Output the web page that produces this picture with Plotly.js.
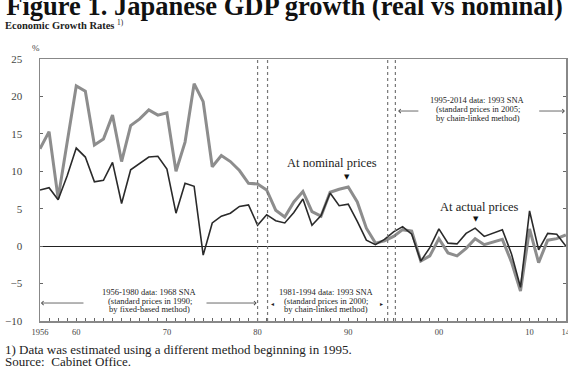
<!DOCTYPE html>
<html><head><meta charset="utf-8">
<script src="https://cdn.plot.ly/plotly-3.0.1.min.js"></script>
<style>html,body{margin:0;padding:0;background:#fff;}#chart{width:568px;height:369px;}</style>
</head><body><div id="chart"></div>
<script>
const years = [1956,1957,1958,1959,1960,1961,1962,1963,1964,1965,1966,1967,1968,1969,1970,
  1971,1972,1973,1974,1975,1976,1977,1978,1979,1980,1981,1982,1983,1984,1985,1986,1987,1988,
  1989,1990,1991,1992,1993,1994,1995,1996,1997,1998,1999,2000,2001,2002,2003,2004,2005,2006,
  2007,2008,2009,2010,2011,2012,2013,2014];
const realGrowth = [7.5,7.8,6.2,9.4,13.1,11.9,8.6,8.8,11.2,5.7,10.2,11.1,11.9,12.0,10.3,
  4.4,8.4,8.0,-1.2,3.1,4.0,4.4,5.3,5.5,2.8,4.2,3.4,3.1,4.5,6.3,2.8,4.1,7.1,
  5.4,5.6,3.3,0.8,0.2,0.9,1.9,2.6,1.6,-2.0,-0.2,2.3,0.4,0.3,1.7,2.4,1.3,1.7,
  2.2,-1.0,-5.5,4.7,-0.5,1.7,1.6,0.0];
const nominalGrowth = [13.0,15.3,6.4,13.9,21.4,20.7,13.5,14.3,17.5,11.3,16.1,17.0,18.2,17.5,17.8,
  10.0,13.9,21.7,19.3,10.6,12.1,11.3,10.1,8.4,8.3,7.5,4.8,3.9,5.9,7.3,4.6,4.0,7.2,
  7.6,7.9,5.9,2.4,0.4,0.7,1.3,2.2,2.0,-2.0,-1.3,1.0,-0.9,-1.3,-0.3,1.0,0.2,0.5,
  0.9,-2.1,-6.0,2.3,-2.2,0.8,1.0,1.5];
const tickYears = [1956,1960,1970,1980,1990,2000,2010,2014];
const tickLabels = ['1956','60','70','80','90','00','10','14'];
const breakYears = [1980, 1981.1, 1994.35, 1995.2];

const SERIF = 'Liberation Serif, Times New Roman, serif';
const L = 40, R = 566, T = 59, B = 321;
const px = x => (x - L) / (R - L);
const py = y => (B - y) / (B - T);

const traces = [
  {x: years, y: nominalGrowth, type: 'scatter', mode: 'lines', name: 'At nominal prices',
   line: {color: '#8d8d8d', width: 3}, hoverinfo: 'skip'},
  {x: years, y: realGrowth, type: 'scatter', mode: 'lines', name: 'At actual prices',
   line: {color: '#2a2a2a', width: 1.6}, hoverinfo: 'skip'}
];

const shapes = breakYears.map(v => ({type: 'line', xref: 'x', yref: 'paper', x0: v, x1: v, y0: 0, y1: 1,
  line: {color: '#777', width: 1.2, dash: 'dot'}}));

const txt = (text, x, y, size, extra) => Object.assign({text, x, y, xref: 'x', yref: 'y', showarrow: false,
  font: {family: SERIF, size, color: '#222'}}, extra || {});
const arrow = (x, y, ax, ay) => ({text: '', x, y, ax, ay, xref: 'x', yref: 'y', axref: 'x', ayref: 'y',
  showarrow: true, arrowhead: 4, arrowsize: 1, arrowwidth: 0.8, arrowcolor: '#444'});

const annotations = [
  {text: '<b>Economic Growth Rates</b> <sup>1)</sup>', xref: 'paper', yref: 'paper', x: px(3), y: py(25),
   xanchor: 'left', yanchor: 'middle', showarrow: false, font: {family: SERIF, size: 10.5, color: '#222'}},
  {text: '%', xref: 'paper', yref: 'paper', x: px(36), y: py(48), xanchor: 'center', yanchor: 'middle',
   showarrow: false, font: {family: SERIF, size: 9, color: '#444'}},
  {text: '1) Data was estimated using a different method beginning in 1995.', xref: 'paper', yref: 'paper',
   x: px(3), y: py(349), xanchor: 'left', yanchor: 'middle', showarrow: false, font: {family: SERIF, size: 13, color: '#222'}},
  {text: 'Source:  Cabinet Office.', xref: 'paper', yref: 'paper',
   x: px(3), y: py(361), xanchor: 'left', yanchor: 'middle', showarrow: false, font: {family: SERIF, size: 13, color: '#222'}},
  txt('At nominal prices', 1988.2, 11.1, 12.5),
  txt('▼', 1989.85, 9.2, 7, {font: {family: 'DejaVu Sans', size: 7, color: '#111'}}),
  txt('At actual prices', 2004.5, 5.2, 12.5),
  txt('▼', 2004.1, 3.6, 7, {font: {family: 'DejaVu Sans', size: 7, color: '#111'}}),
  txt('1995-2014 data: 1993 SNA', 2004.3, 19.5, 8.5),
  txt('(standard prices in 2005;', 2004.3, 18.3, 8.5),
  txt('by chain-linked method)', 2004.3, 17.1, 8.5),
  arrow(1995.5, 18.05, 1997.9, 18.05),
  arrow(2013.9, 18.05, 2010.9, 18.05),
  txt('1956-1980 data: 1968 SNA', 1968.1, -6.1, 8.5),
  txt('(standard prices in 1990;', 1968.1, -7.3, 8.5),
  txt('by fixed-based method)', 1968.1, -8.45, 8.5),
  arrow(1956.1, -7.6, 1960.96, -7.6),
  arrow(1979.9, -7.6, 1974.2, -7.6),
  txt('1981-1994 data: 1993 SNA', 1987.6, -6.1, 8.5),
  txt('(standard prices in 2000;', 1987.6, -7.3, 8.5),
  txt('by chain-linked method)', 1987.6, -8.45, 8.5),
  txt('◂', 1981.6, -7.6, 6, {font: {family: 'DejaVu Sans', size: 6, color: '#222'}}),
  txt('▸', 1993.7, -7.6, 6, {font: {family: 'DejaVu Sans', size: 6, color: '#222'}})
];

const layout = {
  width: 568, height: 369,
  margin: {l: L, r: 568 - R, t: T, b: 369 - B, pad: 0},
  paper_bgcolor: '#fff', plot_bgcolor: '#fff',
  showlegend: false,
  title: {text: '<b>Figure 1. Japanese GDP growth (real vs nominal)</b>',
    font: {family: SERIF, size: 26.5, color: '#111'},
    x: 0.011, xanchor: 'left', xref: 'container', yref: 'container', y: 0.984, yanchor: 'middle'},
  xaxis: {range: [1956, 2014.02], tickmode: 'array', tickvals: tickYears, ticktext: tickLabels,
    ticks: 'inside', ticklen: 3, tickcolor: '#666', showgrid: false, zeroline: false,
    showline: true, linecolor: '#888', linewidth: 1.5, mirror: true, ticklabelstandoff: 2,
    ticklabeloverflow: 'allow',
    tickfont: {family: SERIF, size: 8.5, color: '#444'},
    minor: {dtick: 1, tick0: 1956, ticks: 'inside', ticklen: 3, tickcolor: '#666', showgrid: false}},
  yaxis: {range: [-10, 25], tick0: 0, dtick: 5, ticks: 'inside', ticklen: 3, tickcolor: '#666',
    showgrid: false, zeroline: true, zerolinecolor: '#222', zerolinewidth: 1,
    showline: true, linecolor: '#888', linewidth: 1.5, mirror: 'ticks', ticklabelstandoff: 14,
    tickfont: {family: SERIF, size: 11, color: '#444'}},
  shapes, annotations
};

Plotly.newPlot('chart', traces, layout, {staticPlot: true, displayModeBar: false});
</script>
</body></html>
